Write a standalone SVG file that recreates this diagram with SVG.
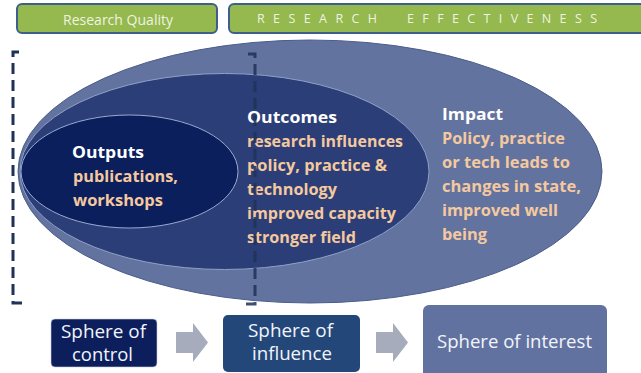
<svg xmlns="http://www.w3.org/2000/svg" width="641" height="373" viewBox="0 0 641 373">
<style>
.band{fill:#95B84F;stroke:#3E5E8C;stroke-width:2}
.bandtxt{font-family:"Open Sans","Liberation Sans",sans-serif;fill:#EEF4E0}
.head{font-family:"Open Sans","Liberation Sans",sans-serif;font-weight:bold;font-size:16px;fill:#FFFFFF}
.body{font-family:"Open Sans","Liberation Sans",sans-serif;font-weight:bold;font-size:15.5px;fill:#F5C9A0}
.sph{font-family:"Open Sans","Liberation Sans",sans-serif;font-size:18px;fill:#F2F4FA;text-anchor:start}
.arrow{fill:#A6ACBB}
.dash{fill:none;stroke:#1E3357;stroke-width:3;stroke-dasharray:11 6}
</style>
<rect width="641" height="373" fill="#FFFFFF"/>

<g id="research-quality">
<rect class="band" x="17" y="4" width="200" height="29" rx="5"/>
<text class="bandtxt" x="63" y="25" font-size="14" textLength="110" lengthAdjust="spacingAndGlyphs">Research Quality</text>
</g>

<g id="research-effectiveness">
<rect class="band" x="229" y="4" width="420" height="29" rx="5"/>
<text class="bandtxt" y="23" font-size="12.5"><tspan x="257" textLength="120" lengthAdjust="spacing">RESEARCH</tspan><tspan x="407" textLength="190" lengthAdjust="spacing">EFFECTIVENESS</tspan></text>
</g>

<g id="impact">
<ellipse cx="310" cy="171.5" rx="292" ry="131.5" fill="#62739F" stroke="#4C5D8C" stroke-width="1"/>
<text class="head" x="442" y="120" textLength="61" lengthAdjust="spacingAndGlyphs">Impact</text>
<text class="body" x="442" y="144" textLength="123" lengthAdjust="spacingAndGlyphs">Policy, practice</text>
<text class="body" x="442" y="168" textLength="128" lengthAdjust="spacingAndGlyphs">or tech leads to</text>
<text class="body" x="442" y="192" textLength="139" lengthAdjust="spacingAndGlyphs">changes in state,</text>
<text class="body" x="442" y="216" textLength="116" lengthAdjust="spacingAndGlyphs">improved well</text>
<text class="body" x="442" y="240" textLength="45" lengthAdjust="spacingAndGlyphs">being</text>
</g>

<g id="outcomes">
<ellipse cx="224.5" cy="171.5" rx="204.5" ry="98" fill="#2B3E77" stroke="#8FA0C8" stroke-width="1"/>
<text class="head" x="247" y="123" textLength="90" lengthAdjust="spacingAndGlyphs">Outcomes</text>
<text class="body" x="247" y="147" textLength="156" lengthAdjust="spacingAndGlyphs">research influences</text>
<text class="body" x="247" y="171" textLength="140" lengthAdjust="spacingAndGlyphs">policy, practice &amp;</text>
<text class="body" x="247" y="195" textLength="90" lengthAdjust="spacingAndGlyphs">technology</text>
<text class="body" x="247" y="219" textLength="149" lengthAdjust="spacingAndGlyphs">improved capacity</text>
<text class="body" x="247" y="243" textLength="109" lengthAdjust="spacingAndGlyphs">stronger field</text>
</g>

<g id="outputs">
<ellipse cx="129.5" cy="171.5" rx="108.5" ry="56.5" fill="#0B1F5C" stroke="#9AAAD0" stroke-width="1"/>
<text class="head" x="72" y="158" textLength="72" lengthAdjust="spacingAndGlyphs">Outputs</text>
<text class="body" x="73" y="182" textLength="105" lengthAdjust="spacingAndGlyphs">publications,</text>
<text class="body" x="73" y="206" textLength="90" lengthAdjust="spacingAndGlyphs">workshops</text>
</g>

<g id="bracket">
<path class="dash" d="M19,52 H13 V303 H26"/>
<path class="dash" d="M248,54 H255 V304 H243" opacity="0.85"/>
</g>

<g id="sphere-control">
<rect x="51" y="319" width="106" height="48" rx="4" fill="#0C1F5C" stroke="#C9CFE0" stroke-width="0.6"/>
<text class="sph" x="61" y="338" textLength="85" lengthAdjust="spacingAndGlyphs">Sphere of</text>
<text class="sph" x="72" y="361" textLength="61" lengthAdjust="spacingAndGlyphs">control</text>
</g>

<g id="sphere-influence">
<rect x="223" y="315" width="137" height="57" rx="5" fill="#234779"/>
<text class="sph" x="248" y="337" textLength="85" lengthAdjust="spacingAndGlyphs">Sphere of</text>
<text class="sph" x="252" y="360" textLength="80" lengthAdjust="spacingAndGlyphs">influence</text>
</g>

<g id="sphere-interest">
<rect x="423" y="305" width="184" height="78" rx="6" fill="#6272A0"/>
<text class="sph" x="437" y="348" textLength="155" lengthAdjust="spacingAndGlyphs">Sphere of interest</text>
</g>

<g id="connectors">
<path class="arrow" d="M176,332 H193 V323 L208,342.5 L193,362 V353 H176 Z"/>
<path class="arrow" d="M376,332 H393 V323 L408,342.5 L393,362 V353 H376 Z"/>
</g>
</svg>
